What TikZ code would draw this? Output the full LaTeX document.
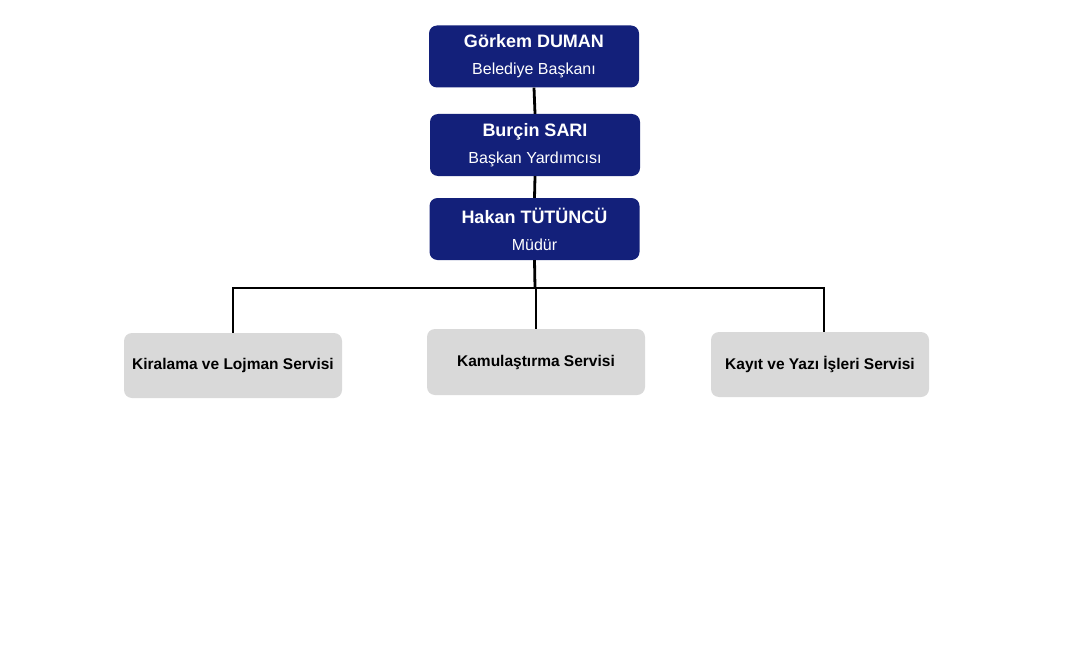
\documentclass[tikz,border=0pt]{standalone}
\usepackage{fontspec}
\setmainfont{Liberation Sans}
\usetikzlibrary{positioning}
\definecolor{baskanblue}{HTML}{13207A}
\definecolor{servisgray}{HTML}{D9D9D9}
\begin{document}
\begin{tikzpicture}[x=1pt,y=-1pt,
	yonetici/.style={fill=baskanblue,text=white,rounded corners=8pt,inner sep=0pt,
		minimum width=210pt,minimum height=62pt,align=center,font=\fontsize{16}{27}\selectfont},
	servis/.style={fill=servisgray,text=black,rounded corners=8pt,inner sep=0pt,
		minimum width=218pt,minimum height=65pt,font=\bfseries\fontsize{15.5}{18}\selectfont},
	hat/.style={line width=2.8pt}]
	\useasboundingbox (0,0) rectangle (1075,666);
	\node[yonetici] (baskan) at (534,56.5) {{\bfseries\fontsize{18}{27}\selectfont Görkem DUMAN}\\Belediye Başkanı};
	\node[yonetici] (yardimci) at (535,145) {{\bfseries\fontsize{18}{27}\selectfont Burçin SARI}\\Başkan Yardımcısı};
	\node[yonetici] (mudur) at (534.5,229) {{\bfseries\fontsize{18}{27}\selectfont Hakan TÜTÜNCÜ}\\Müdür};
	\node[servis] (kiralama) at (233,365.5) {Kiralama ve Lojman Servisi};
	\node[servis,minimum height=66pt] (kamulastirma) at (536,362) {Kamulaştırma Servisi};
	\node[servis] (kayit) at (820,364.5) {Kayıt ve Yazı İşleri Servisi};
	\coordinate (kol) at (535,288);
	\draw[hat] (baskan.south) -- (yardimci.north);
	\draw[hat] (yardimci.south) -- (mudur.north);
	\draw[hat] (mudur.south) -- (kol);
	\draw[hat] (kiralama.north) |- (kol) -| ([xshift=4pt]kayit.north);
	\draw[hat] (kamulastirma.north) -- (kamulastirma.north |- kol);
\end{tikzpicture}
\end{document}
